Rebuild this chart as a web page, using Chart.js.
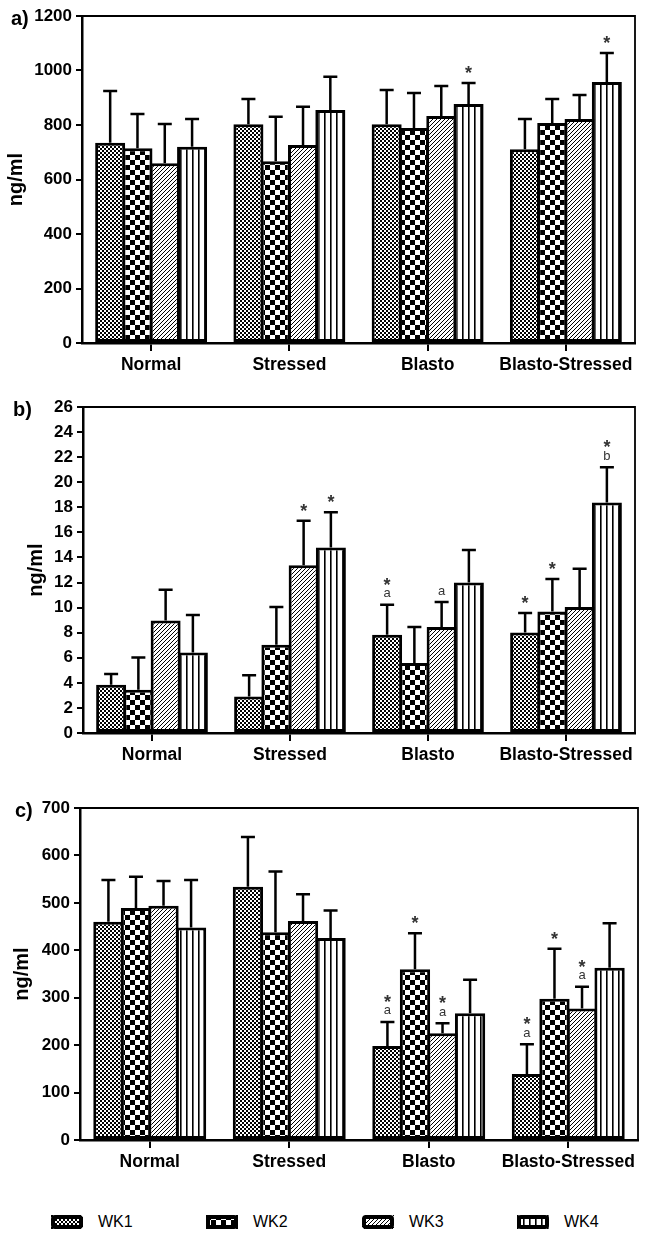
<!DOCTYPE html>
<html>
<head>
<meta charset="utf-8">
<script src="https://cdn.jsdelivr.net/npm/chart.js@4.4.1/dist/chart.umd.min.js"></script>
<style>
  body { margin: 0; background: #fff; }
  #wrap { position: relative; width: 662px; height: 1237px; }
  .panel { position: absolute; left: 0; }
  .item { position: absolute; top: 1212px; height: 20px; display: flex; align-items: center;
          font: 16px 'Liberation Sans', Arial, sans-serif; color: #000; }
  .item canvas { margin-right: 15px; }
</style>
</head>
<body>
<div id="wrap">
  <canvas id="chartA" class="panel" width="662" height="390" style="top:0"></canvas>
  <canvas id="chartB" class="panel" width="662" height="390" style="top:390px"></canvas>
  <canvas id="chartC" class="panel" width="662" height="400" style="top:780px"></canvas>
  <div id="legend"></div>
</div>
<script>
const FONT = "'Liberation Sans', Arial, sans-serif";

const groups = ['Normal', 'Stressed', 'Blasto', 'Blasto-Stressed'];
const weeks = ['WK1', 'WK2', 'WK3', 'WK4'];

// a) one row per week, one value per group
const aMean = [
  [735, 803, 803, 711],
  [715, 667, 789, 807],
  [660, 727, 833, 822],
  [720, 855, 877, 958]
];
const aSd = [
  [190, 92, 125, 111],
  [125, 163, 128, 88],
  [144, 140, 110, 88],
  [102, 122, 77, 106]
];
const aMarks = [
  ['', '', '', ''],
  ['', '', '', ''],
  ['', '', '', ''],
  ['', '', '*', '*']
];
const aTicks = [0, 200, 400, 600, 800, 1000, 1200];

// b)
const bMean = [
  [3.85, 2.92, 7.84, 8.02],
  [3.45, 7.04, 5.58, 9.7],
  [8.98, 13.37, 8.45, 10.05],
  [6.43, 14.8, 12.0, 18.39]
];
const bSd = [
  [0.85, 1.68, 2.39, 1.55],
  [2.58, 3.01, 2.87, 2.58],
  [2.45, 3.56, 2.0, 3.05],
  [2.98, 2.8, 2.6, 2.81]
];
const bMarks = [
  ['', '', '*a', '*'],
  ['', '', '', '*'],
  ['', '*', 'a', ''],
  ['', '*', '', '*b']
];
const bTicks = [0, 2, 4, 6, 8, 10, 12, 14, 16, 18, 20, 22, 24, 26];

// c)
const cMean = [
  [460, 534, 198, 139],
  [489, 438, 360, 298],
  [494, 462, 225, 277],
  [448, 426, 267, 363]
];
const cSd = [
  [88, 105, 51, 63],
  [66, 128, 76, 105],
  [52, 56, 21, 46],
  [100, 58, 71, 94]
];
const cMarks = [
  ['', '', '*a', '*a'],
  ['', '', '*', '*'],
  ['', '', '*a', '*a'],
  ['', '', '', '']
];
const cTicks = [0, 100, 200, 300, 400, 500, 600, 700];

// hatch fills for the four weeks
function makePattern(kind) {
  const c = document.createElement('canvas');
  const g = c.getContext('2d');
  const s = [4, 10, 4, 6][kind];
  c.width = s; c.height = s;
  g.fillStyle = '#fff';
  g.fillRect(0, 0, s, s);
  g.fillStyle = '#000';
  g.strokeStyle = '#000';
  if (kind === 0) {
    g.fillRect(0, 0, 2, 2); g.fillRect(2, 2, 2, 2);
  } else if (kind === 1) {
    g.fillRect(0, 0, 5, 5); g.fillRect(5, 5, 5, 5);
  } else if (kind === 2) {
    g.lineWidth = 1;
    g.beginPath();
    g.moveTo(0, 4); g.lineTo(4, 0);
    g.moveTo(-1, 1); g.lineTo(1, -1);
    g.moveTo(3, 5); g.lineTo(5, 3);
    g.stroke();
  } else {
    g.fillRect(0, 0, 1.6, 6);
  }
  return g.createPattern(c, 'repeat');
}
const patterns = [0, 1, 2, 3].map(makePattern);

const errorBars = {
  id: 'errorBars',
  afterDatasetsDraw(chart) {
    const ctx = chart.ctx;
    const y = chart.scales.y;
    ctx.save();
    chart.data.datasets.forEach((ds, i) => {
      chart.getDatasetMeta(i).data.forEach((bar, j) => {
        const top = y.getPixelForValue(ds.data[j] + ds.sd[j]);
        ctx.strokeStyle = '#000';
        ctx.lineWidth = 2.5;
        ctx.beginPath();
        ctx.moveTo(bar.x, bar.y);
        ctx.lineTo(bar.x, top);
        ctx.moveTo(bar.x - 7, top);
        ctx.lineTo(bar.x + 7, top);
        ctx.stroke();

        const mark = ds.marks[j];
        if (!mark) return;
        const letter = mark.replace('*', '');
        ctx.fillStyle = '#333';
        ctx.textAlign = 'center';
        ctx.textBaseline = 'middle';
        if (letter) {
          ctx.font = '13px ' + FONT;
          ctx.fillText(letter, bar.x, top - 11);
        }
        if (mark.includes('*')) {
          ctx.font = 'bold 18px ' + FONT;
          ctx.fillText('*', bar.x, (letter ? top - 24 : top - 14) + 5);
        }
      });
    });
    ctx.restore();
  }
};

const frame = {
  id: 'frame',
  afterDraw(chart, args, opts) {
    const { ctx, chartArea: { left, top, right, bottom } } = chart;
    ctx.save();
    ctx.strokeStyle = '#000';
    ctx.lineWidth = 1.8;
    ctx.beginPath();
    ctx.moveTo(left, top);
    ctx.lineTo(right, top);
    ctx.lineTo(right, bottom);
    ctx.stroke();
    ctx.fillStyle = '#000';
    ctx.font = 'bold 20px ' + FONT;
    ctx.textBaseline = 'middle';
    ctx.textAlign = 'left';
    ctx.fillText(opts.tag, opts.tagX, top + 3);
    ctx.restore();
  }
};

function buildChart(id, mean, sd, marks, ticks, p) {
  const ctx = document.getElementById(id).getContext('2d');
  return new Chart(ctx, {
    type: 'bar',
    data: {
      labels: groups,
      datasets: weeks.map((w, i) => ({
        label: w,
        data: mean[i],
        sd: sd[i],
        marks: marks[i],
        backgroundColor: patterns[i],
        borderColor: '#000',
        borderWidth: 3,
        borderSkipped: false,
        categoryPercentage: 0.79,
        barPercentage: 1.1
      }))
    },
    options: {
      responsive: false,
      animation: false,
      layout: { padding: { top: p.top, right: p.right, left: 0, bottom: 0 } },
      plugins: {
        legend: { display: false },
        tooltip: { enabled: false },
        frame: { tag: p.tag, tagX: p.tagX }
      },
      scales: {
        x: {
          grid: { offset: false, drawOnChartArea: false, tickLength: 8, color: '#000', lineWidth: 2 },
          border: { color: '#000', width: 2.5 },
          ticks: { color: '#000', padding: 4, maxRotation: 0, minRotation: 0, autoSkip: false,
                   font: { size: 17.5, weight: 'bold' } },
          afterFit: s => { s.height = p.xh; }
        },
        y: {
          min: ticks[0],
          max: ticks[ticks.length - 1],
          afterBuildTicks: s => { s.ticks = ticks.map(v => ({ value: v })); },
          grid: { drawOnChartArea: false, tickLength: 6, color: '#000', lineWidth: 2 },
          border: { color: '#000', width: 2.5 },
          ticks: { color: '#000', padding: 4, autoSkip: false, callback: v => String(v),
                   font: { size: 17, weight: 'bold' } },
          title: {
            display: true, text: 'ng/ml', color: '#000',
            font: { size: 20, weight: 'bold' },
            padding: { top: p.tp, bottom: 0 }
          },
          afterFit: s => { s.width = p.yw; }
        }
      }
    },
    plugins: [errorBars, frame]
  });
}

Chart.defaults.font.family = FONT;

buildChart('chartA', aMean, aSd, aMarks, aTicks,
  { top: 16, right: 27, xh: 47, yw: 82, tp: 4, tag: 'a)', tagX: 11 });
buildChart('chartB', bMean, bSd, bMarks, bTicks,
  { top: 17, right: 27, xh: 47, yw: 83, tp: 24, tag: 'b)', tagX: 13 });
buildChart('chartC', cMean, cSd, cMarks, cTicks,
  { top: 28, right: 24, xh: 40, yw: 80, tp: 10, tag: 'c)', tagX: 15 });

// legend
const legendX = [51, 206, 362, 517];
const legend = document.getElementById('legend');
weeks.forEach((w, i) => {
  const item = document.createElement('div');
  item.className = 'item';
  item.style.left = legendX[i] + 'px';
  const sw = document.createElement('canvas');
  sw.width = 32; sw.height = 14;
  const g = sw.getContext('2d');
  g.fillStyle = patterns[i];
  g.fillRect(0, 0, 32, 14);
  g.strokeStyle = '#000';
  g.lineWidth = 4;
  g.beginPath();
  g.roundRect(2, 2, 28, 10, 2);
  g.stroke();
  item.appendChild(sw);
  item.appendChild(document.createTextNode(w));
  legend.appendChild(item);
});
</script>
</body>
</html>
